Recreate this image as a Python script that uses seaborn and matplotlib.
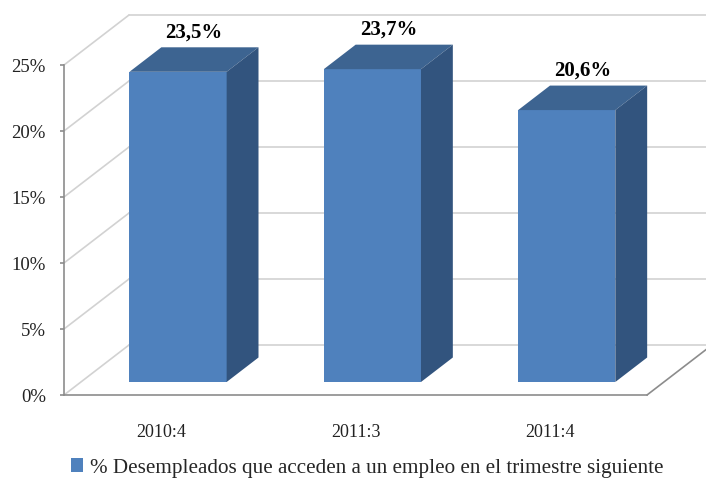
import matplotlib
matplotlib.use('Agg')
import matplotlib.pyplot as plt
import seaborn as sns
import pandas as pd
from matplotlib.patches import Polygon
from matplotlib.transforms import Affine2D

# Data
periods = ["2010:4", "2011:3", "2011:4"]
values = [23.5, 23.7, 20.6]
value_labels = ["23,5%", "23,7%", "20,6%"]
y_ticks = [0, 5, 10, 15, 20, 25]
y_tick_labels = ["0%", "5%", "10%", "15%", "20%", "25%"]
series_name = "% Desempleados que acceden a un empleo en el trimestre siguiente"

# Colours
FRONT = "#4F81BD"
TOP = "#3D6491"
SIDE = "#32547E"
GRID = "#d2d2d2"
AXIS = "#8c8c8c"

sns.set_style("white")
plt.rcParams['font.family'] = ['Liberation Serif', 'DejaVu Serif']

fig = plt.figure(figsize=(7.06, 4.82), dpi=100)
W, H = 706, 482
ax = fig.add_axes([64 / W, 87 / H, 583 / W, 330 / H])
ax.set_xlim(-0.5, 2.5)
ax.set_ylim(0, 25)

# 3D projection offsets (depth of the whole box, in data units)
DX = 65 / (583 / 3)
DY = 50 / (330 / 25)
F0, FD = 0.26, 0.49  # bar front position and bar depth, as fractions of depth

# back wall gridlines, side wall diagonals, floor
for t in y_ticks:
    ax.plot([-0.5 + DX, 2.5 + DX], [t + DY, t + DY], color=GRID, lw=1.2,
            clip_on=False, zorder=0)
    ax.plot([-0.5, -0.5 + DX], [t, t + DY], color=GRID, lw=1.2,
            clip_on=False, zorder=0)
ax.plot([2.5, 2.5 + DX], [0, DY], color=AXIS, lw=1.2, clip_on=False, zorder=0)

df = pd.DataFrame({"period": periods, "value": values})
sns.barplot(data=df, x="period", y="value", color=FRONT, width=0.5,
            saturation=1, label=series_name, ax=ax, zorder=3)

for i, p in enumerate(ax.patches):
    ox, oy = F0 * DX, F0 * DY
    p.set_transform(Affine2D().translate(ox, oy) + ax.transData)
    p.set_clip_on(False)
    p.set_edgecolor("none")
    x0 = p.get_x() + ox
    x1 = x0 + p.get_width()
    top = p.get_height() + oy
    bot = oy
    ddx, ddy = FD * DX, FD * DY
    ax.add_patch(Polygon([(x0, top), (x1, top), (x1 + ddx, top + ddy), (x0 + ddx, top + ddy)],
                         closed=True, facecolor=TOP, edgecolor="none", zorder=3, clip_on=False))
    ax.add_patch(Polygon([(x1, bot), (x1 + ddx, bot + ddy), (x1 + ddx, top + ddy), (x1, top)],
                         closed=True, facecolor=SIDE, edgecolor="none", zorder=3, clip_on=False))
    ax.annotate(value_labels[i], ((x0 + x1) / 2 + ddx / 2, top + ddy),
                xytext=(0, 7), textcoords="offset points", ha="center", va="baseline",
                fontsize=15, fontweight="bold", color="black", annotation_clip=False)

ax.set_yticks(y_ticks)
ax.set_yticklabels(y_tick_labels)
ax.set_xlabel("")
ax.set_ylabel("")
ax.tick_params(axis="y", length=3, width=1.2, color=AXIS, pad=10, labelsize=13.5,
               left=True, labelcolor="#222222")
ax.tick_params(axis="x", length=0, pad=21, labelsize=13, labelcolor="#222222")

for s in ["top", "right"]:
    ax.spines[s].set_visible(False)
for s in ["left", "bottom"]:
    ax.spines[s].set_color(AXIS)
    ax.spines[s].set_linewidth(1.2)
ax.set_facecolor("none")

handles, labels = ax.get_legend_handles_labels()
if ax.get_legend():
    ax.get_legend().remove()
fig.legend(handles[:1], labels[:1], loc="center", bbox_to_anchor=(367 / W, 1 - 468 / H),
           frameon=False, fontsize=15.2, handlelength=0.6, handleheight=0.6,
           handletextpad=0.3, borderaxespad=0)

fig.savefig("out.png", dpi=100)
